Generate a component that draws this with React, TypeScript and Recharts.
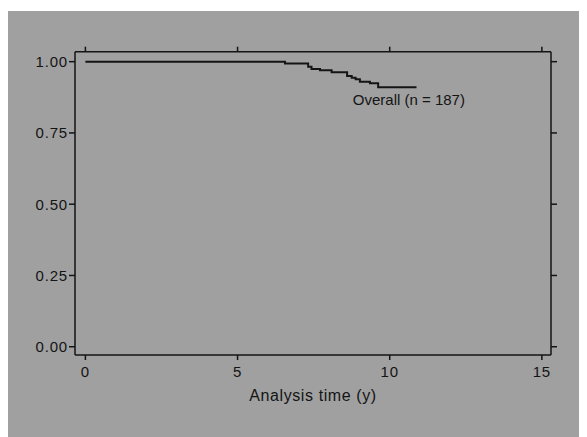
import { LineChart, Line, XAxis, YAxis, ReferenceDot } from "recharts";

// Kaplan-Meier estimate
const times = [0, 6.56, 7.32, 7.43, 7.71, 8.09, 8.6, 8.75, 8.88, 9.02, 9.35, 9.62, 10.88];
const survival = [1.0, 0.994, 0.982, 0.974, 0.97, 0.963, 0.95, 0.944, 0.938, 0.93, 0.924, 0.91, 0.91];

const xTicks = [0, 5, 10, 15];
const yTicks = [0, 0.25, 0.5, 0.75, 1];
const curveLabel = "Overall (n = 187)";
const xTitle = "Analysis time (y)";

const data = times.map((t, i) => ({ t, s: survival[i] }));

const ink = "#141414";
const font = "'Liberation Sans', Arial, sans-serif";
const tickStyle = { fontSize: 15, fill: ink, fontFamily: font, letterSpacing: 0.8 };
const noLabel = () => <g />;

export default function App() {
  return (
    <div style={{ marginTop: 3, width: 579, height: 426, background: "#a0a0a0" }}>
      <LineChart width={579} height={426} data={data} margin={{ top: 30.7, right: 16, bottom: 32, left: 0 }}>
        <XAxis
          dataKey="t"
          type="number"
          domain={[-0.342, 15.3]}
          allowDataOverflow
          ticks={xTicks}
          height={50}
          tickSize={5}
          tickMargin={6}
          stroke={ink}
          strokeWidth={1.5}
          tick={tickStyle}
          label={{ value: xTitle, position: "insideBottom", offset: 4, fontSize: 16, fill: ink, fontFamily: font, letterSpacing: 0.6 }}
        />
        <XAxis
          xAxisId="top"
          orientation="top"
          dataKey="t"
          type="number"
          domain={[-0.342, 15.3]}
          allowDataOverflow
          ticks={xTicks}
          height={10}
          tickSize={5}
          stroke={ink}
          strokeWidth={1.5}
          tick={noLabel}
        />
        <YAxis
          type="number"
          domain={[-0.029, 1.035]}
          allowDataOverflow
          ticks={yTicks}
          tickFormatter={(v: number) => v.toFixed(2)}
          width={67}
          tickSize={6}
          tickMargin={1}
          stroke={ink}
          strokeWidth={1.5}
          tick={tickStyle}
        />
        <YAxis
          yAxisId="right"
          orientation="right"
          type="number"
          domain={[-0.029, 1.035]}
          allowDataOverflow
          ticks={yTicks}
          width={20}
          tickSize={6}
          stroke={ink}
          strokeWidth={1.5}
          tick={noLabel}
        />
        <Line
          type="stepAfter"
          dataKey="s"
          stroke={ink}
          strokeWidth={2}
          dot={false}
          isAnimationActive={false}
        />
        <ReferenceDot
          x={8.59}
          y={0.867}
          r={1}
          fill="none"
          stroke="none"
          label={{ value: curveLabel, position: "right", offset: 5, fontSize: 15, fill: ink, fontFamily: font }}
        />
      </LineChart>
    </div>
  );
}
